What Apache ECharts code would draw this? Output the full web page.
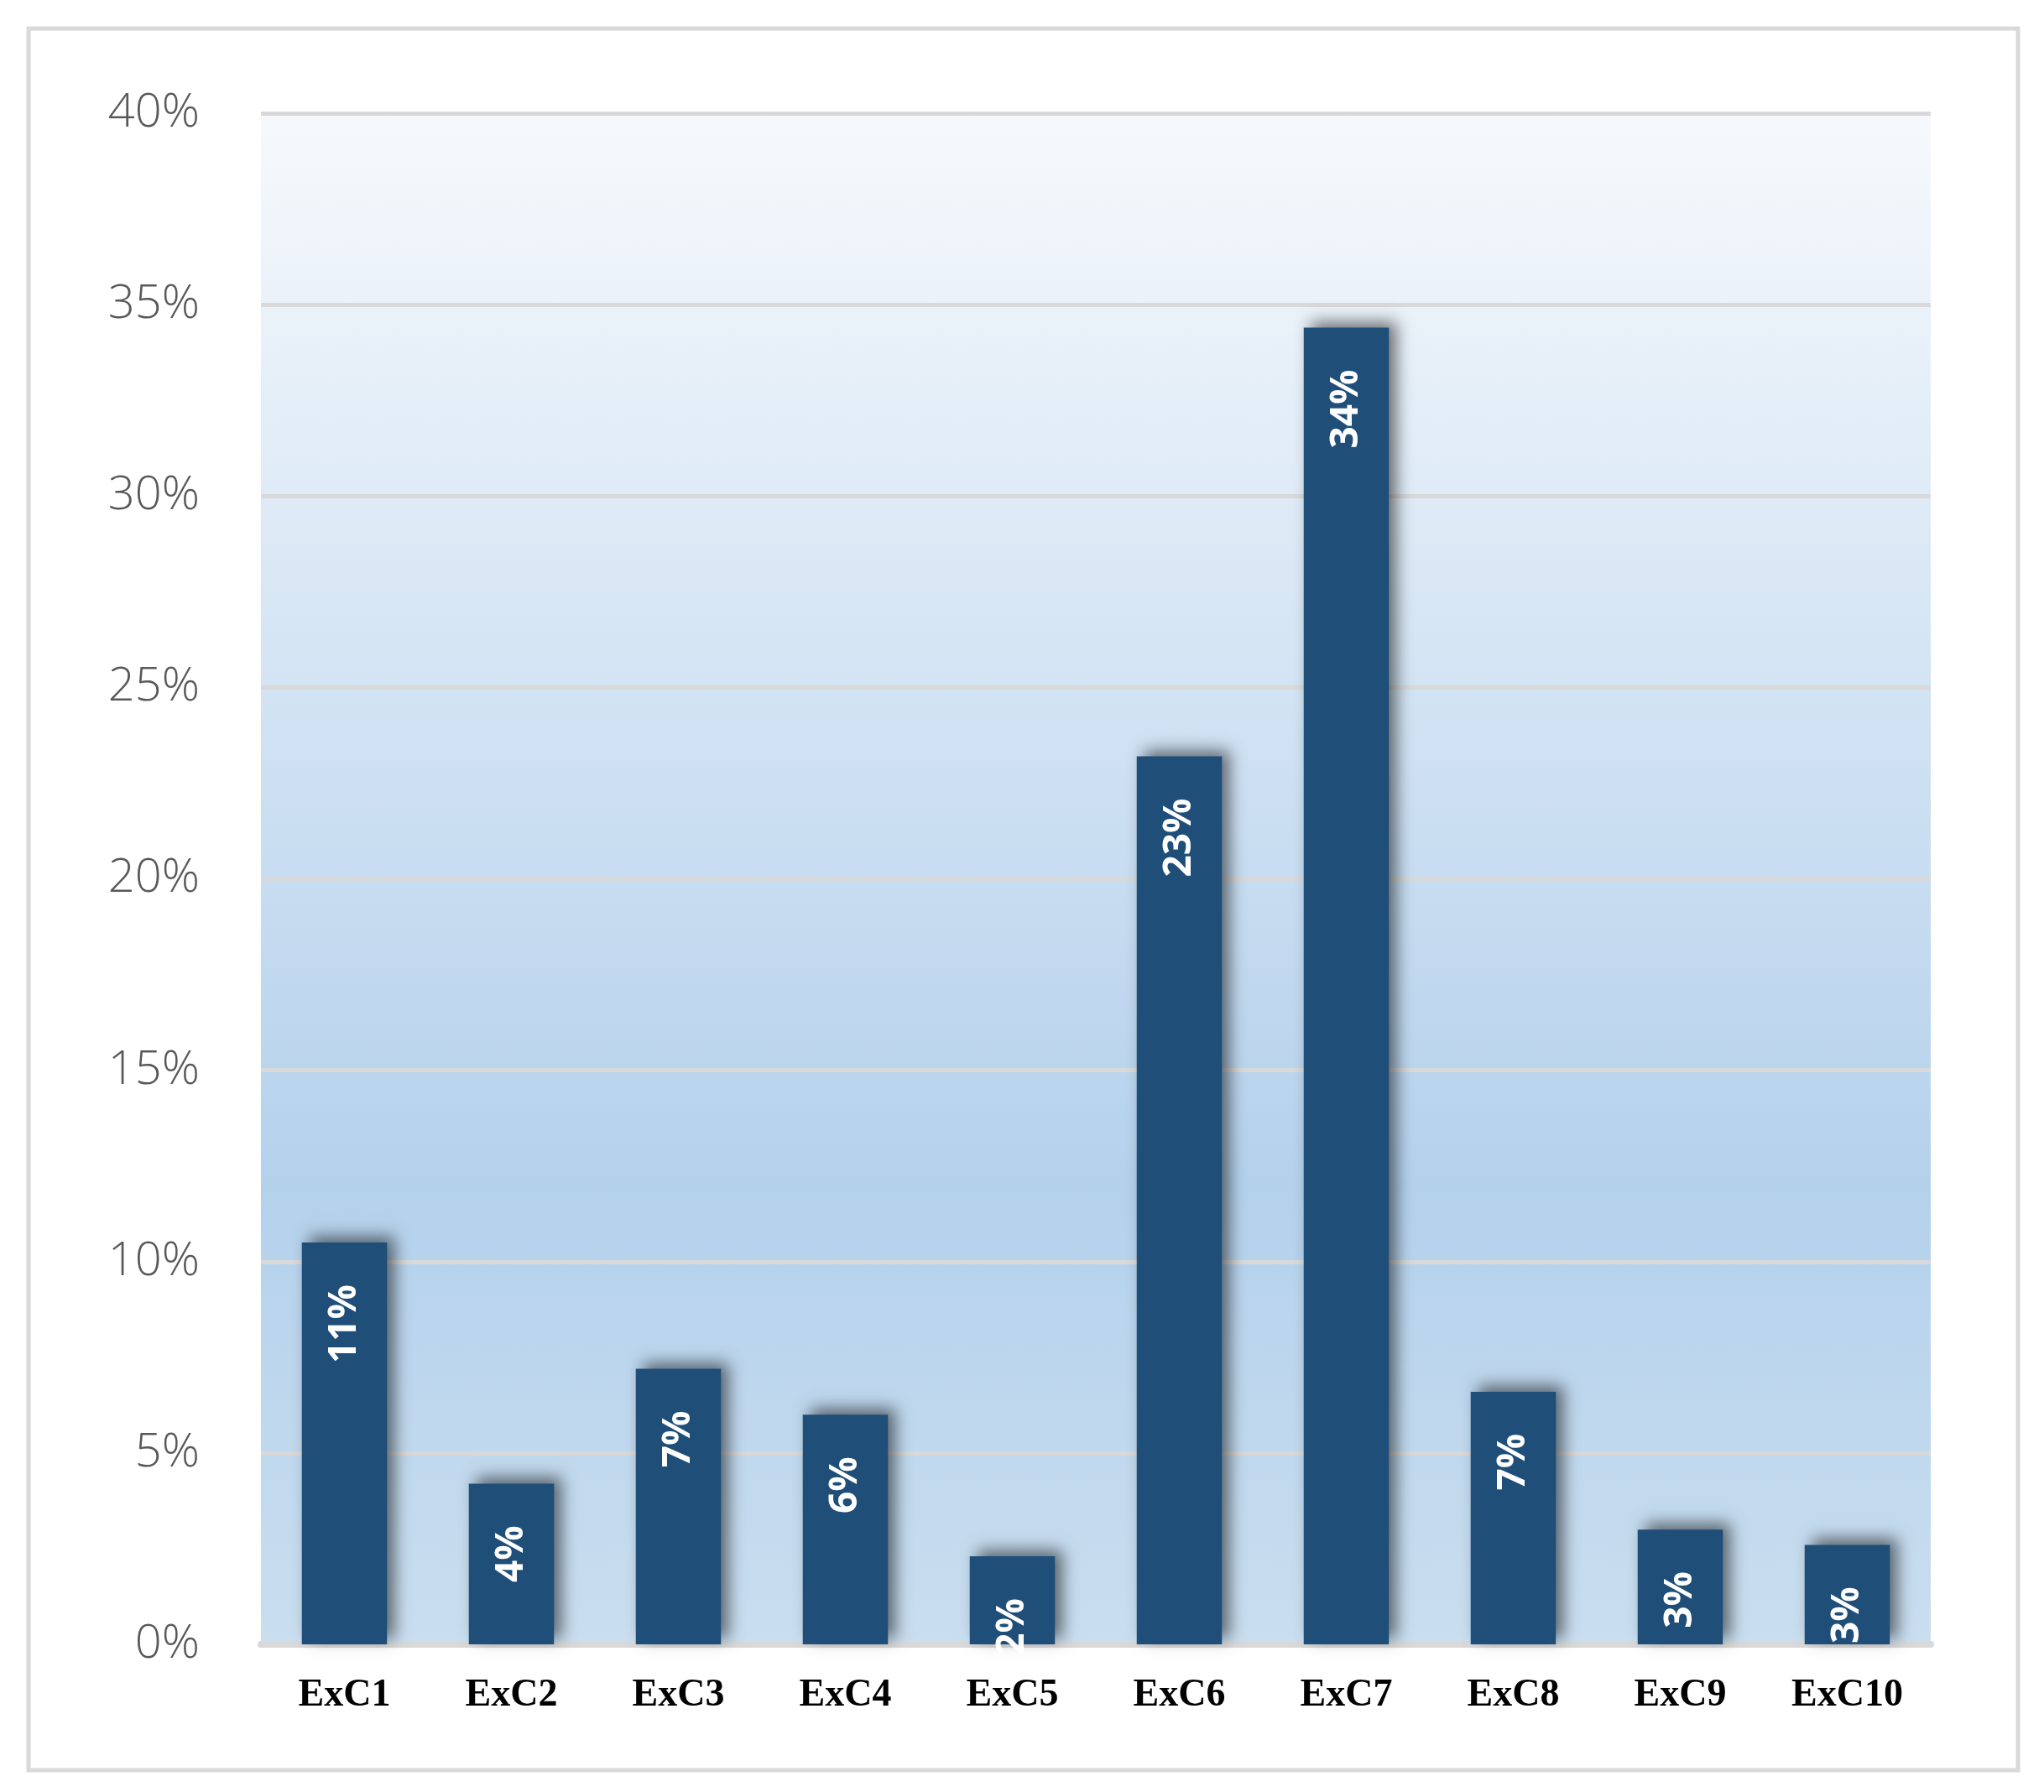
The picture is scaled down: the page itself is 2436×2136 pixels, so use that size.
<!DOCTYPE html>
<html><head><meta charset="utf-8">
<script src="https://cdn.jsdelivr.net/npm/echarts@6/dist/echarts.min.js"></script>
<style>html,body{margin:0;padding:0;background:#fff}#c{width:2436px;height:2136px}</style>
</head><body><div id="c"></div>
<script>
const categories = ['ExC1','ExC2','ExC3','ExC4','ExC5','ExC6','ExC7','ExC8','ExC9','ExC10'];
const values = [10.5, 4.2, 7.2, 6.0, 2.3, 23.2, 34.4, 6.6, 3.0, 2.6];
const labels = ['11%','4%','7%','6%','2%','23%','34%','7%','3%','3%'];
const chart = echarts.init(document.getElementById('c'));
chart.setOption({
  animation:false,
  graphic:[{type:'rect',shape:{x:34,y:34,width:2371,height:2076},style:{fill:'none',stroke:'#d9d9d9',lineWidth:5}}],
  grid:{left:311,right:135,top:135,bottom:176,show:true,borderWidth:0,
    backgroundColor:new echarts.graphic.LinearGradient(0,0,0,1,[
      {offset:0,color:'#f6f9fc'},{offset:0.7,color:'#b4d1ec'},{offset:1,color:'#c9deef'}])},
  xAxis:{type:'category',data:categories,
    axisLine:{lineStyle:{color:'#d9d9d9',width:8}},axisTick:{show:false},
    axisLabel:{margin:38,fontFamily:'Liberation Serif',fontWeight:'bold',fontSize:46,color:'#000'}},
  yAxis:{type:'value',min:0,max:40,interval:5,
    axisLine:{show:false},axisTick:{show:false},
    splitLine:{lineStyle:{color:'#d9d9d9',width:5}},
    axisLabel:{formatter:'{value}%',margin:73,fontFamily:'Open Sans',fontWeight:300,fontSize:56,color:'#595959'}},
  series:[{type:'bar',data:values,barWidth:'51%',
    itemStyle:{color:'#1f4e79',shadowBlur:18,shadowColor:'rgba(0,0,0,0.55)',shadowOffsetX:9,shadowOffsetY:-7},
    label:{show:true,position:'insideTop',rotate:90,align:'right',verticalAlign:'middle',distance:50,
      formatter:p=>labels[p.dataIndex],color:'#fff',fontFamily:'Open Sans',fontWeight:'bold',fontSize:46}}]
});
</script></body></html>
